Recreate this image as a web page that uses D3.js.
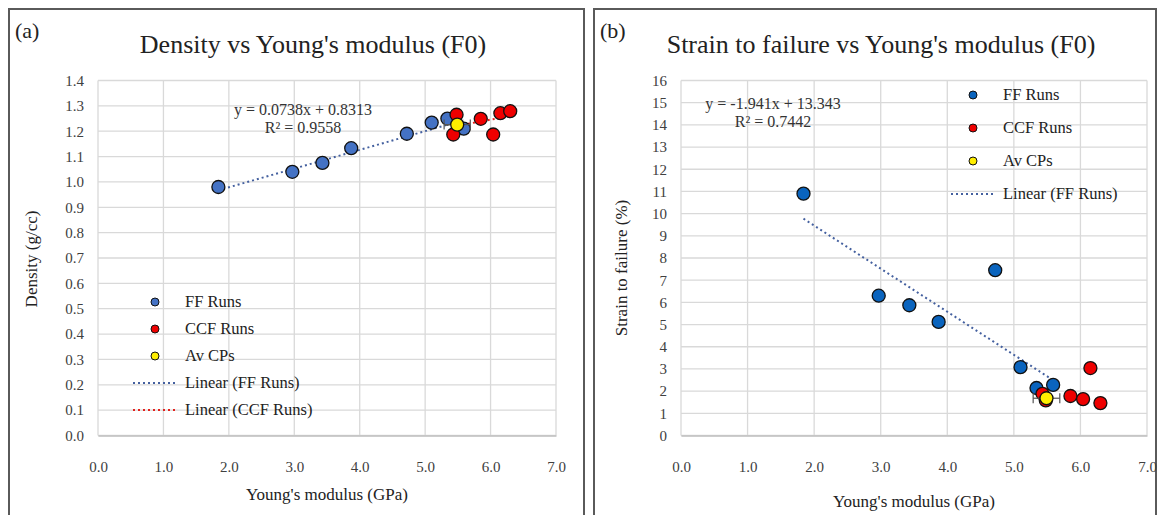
<!DOCTYPE html>
<html>
<head>
<meta charset="utf-8">
<script src="https://cdn.jsdelivr.net/npm/d3@7"></script>
<style>
    body { margin: 0; background: #fff; }
    svg text { font-family: "Liberation Serif", "DejaVu Serif", "Times New Roman", serif; }
</style>
</head>
<body>
<div id="chart"></div>
<script>
// values
const ffModulus = [1.84, 2.97, 3.43, 3.87, 4.72, 5.10, 5.34, 5.59];
const ffDensity = [0.98, 1.04, 1.075, 1.133, 1.19, 1.234, 1.25, 1.21];
const ffStrain = [10.9, 6.3, 5.87, 5.12, 7.45, 3.08, 2.14, 2.28];

const ccfModulus = [5.43, 5.48, 5.85, 6.04, 6.15, 6.30];
const ccfDensity = [1.187, 1.265, 1.249, 1.187, 1.271, 1.279];
const ccfStrain = [1.88, 1.58, 1.78, 1.64, 3.04, 1.46];

const avModulus = [5.49];
const avModulusErr = [0.2];
const avDensity = [1.226];
const avStrain = [1.68];

// trendline labels as printed on the chart: slope, intercept, R²
const densityFit = [0.0738, 0.8313, 0.9558];
const strainFit = [-1.941, 13.343, 0.7442];

const modulusTicks = [0, 1, 2, 3, 4, 5, 6, 7];
const densityTicks = [0, 0.1, 0.2, 0.3, 0.4, 0.5, 0.6, 0.7, 0.8, 0.9, 1.0, 1.1, 1.2, 1.3, 1.4];
const strainTicks = [0, 1, 2, 3, 4, 5, 6, 7, 8, 9, 10, 11, 12, 13, 14, 15, 16];

const serif = '"Liberation Serif", "DejaVu Serif", "Times New Roman", serif';

let width = 1159;
let height = 515;

let svg = d3.select('#chart')
    .append('svg')
    .attr('width', width)
    .attr('height', height)
    .attr('font-family', serif);

svg.append('rect')
    .attr('width', width)
    .attr('height', height)
    .attr('fill', '#fff');

// least squares fit, the way excel draws the trendline
function fitLine(xs, ys) {
    let mx = d3.mean(xs), my = d3.mean(ys);
    let sxy = d3.sum(xs, (x, i) => (x - mx) * (ys[i] - my));
    let sxx = d3.sum(xs, x => (x - mx) * (x - mx));
    let slope = sxy / sxx;
    return [slope, my - slope * mx];
}

function drawPanel(p) {
    let g = svg.append('g');

    // panel frame (bottom runs off the picture)
    g.append('rect')
        .attr('x', p.frame[0])
        .attr('y', 9)
        .attr('width', p.frame[1] - p.frame[0])
        .attr('height', 530)
        .attr('fill', 'none')
        .attr('stroke', '#5a5a5a')
        .attr('stroke-width', 2);

    let x = d3.scaleLinear()
        .domain([0, 7])
        .range([p.left, p.right]);

    let y = d3.scaleLinear()
        .domain(p.yDomain)
        .range([435.5, 80.5]);

    // grid
    g.append('g')
        .selectAll('line')
        .data(modulusTicks)
        .enter()
        .append('line')
        .attr('x1', d => x(d)).attr('x2', d => x(d))
        .attr('y1', y.range()[1]).attr('y2', y.range()[0])
        .attr('stroke', '#d9d9d9')
        .attr('stroke-width', 1.3);

    g.append('g')
        .selectAll('line')
        .data(p.yTicks)
        .enter()
        .append('line')
        .attr('x1', p.left).attr('x2', p.right)
        .attr('y1', d => y(d)).attr('y2', d => y(d))
        .attr('stroke', '#d9d9d9')
        .attr('stroke-width', 1.3);

    // axes, only the labels are shown
    let xAxis = g.append('g')
        .attr('transform', `translate(0,${y(p.yDomain[0])})`)
        .call(d3.axisBottom(x).tickValues(modulusTicks).tickFormat(d3.format('.1f')).tickSize(0).tickPadding(26));
    xAxis.select('.domain').attr('stroke', '#bfbfbf').attr('stroke-width', 1.3);

    let yAxis = g.append('g')
        .attr('transform', `translate(${p.left},0)`)
        .call(d3.axisLeft(y).tickValues(p.yTicks).tickFormat(p.yFormat).tickSize(0).tickPadding(14));
    yAxis.select('.domain').remove();

    g.selectAll('.tick text')
        .attr('fill', '#404040')
        .attr('font-family', serif)
        .attr('font-size', 15);
    xAxis.attr('font-family', serif);
    yAxis.attr('font-family', serif);

    // titles
    g.append('text')
        .attr('x', p.frame[0] + 6)
        .attr('y', 38)
        .attr('fill', '#222')
        .attr('font-size', 22)
        .text(p.tag);

    g.append('text')
        .attr('x', p.titleX)
        .attr('y', 53)
        .attr('text-anchor', 'middle')
        .attr('fill', '#222')
        .attr('font-size', 26)
        .text(p.title);

    g.append('text')
        .attr('x', (p.left + p.right) / 2)
        .attr('y', p.xTitleY)
        .attr('text-anchor', 'middle')
        .attr('fill', '#222')
        .attr('font-size', 17)
        .text("Young's modulus (GPa)");

    g.append('text')
        .attr('transform', `translate(${p.yTitleX},${p.yTitleY}) rotate(270)`)
        .attr('text-anchor', 'middle')
        .attr('fill', '#222')
        .attr('font-size', 17)
        .text(p.yTitle);

    // trend lines
    let trend = (coef, xs, color) => {
        let ends = d3.extent(xs);
        g.append('line')
            .attr('x1', x(ends[0])).attr('y1', y(coef[0] * ends[0] + coef[1]))
            .attr('x2', x(ends[1])).attr('y2', y(coef[0] * ends[1] + coef[1]))
            .attr('stroke', color)
            .attr('stroke-width', 2)
            .attr('stroke-dasharray', '2,3');
    };
    trend(p.fit, ffModulus, '#44609f');
    if (p.ccfTrend) {
        trend(fitLine(ccfModulus, p.ccf), ccfModulus, '#e3211c');
    }

    // equation
    g.append('text')
        .attr('x', p.eqX)
        .attr('y', p.eqY)
        .attr('text-anchor', 'middle')
        .attr('fill', '#333')
        .attr('font-size', 16)
        .text(`y = ${p.fit[0]}x + ${p.fit[1]}`);
    g.append('text')
        .attr('x', p.eqX)
        .attr('y', p.eqY + 18)
        .attr('text-anchor', 'middle')
        .attr('fill', '#333')
        .attr('font-size', 16)
        .text(`R² = ${p.fit[2]}`);

    // points
    let dots = (xs, ys, fill) => {
        g.append('g')
            .selectAll('circle')
            .data(xs.map((v, i) => [v, ys[i]]))
            .enter()
            .append('circle')
            .attr('cx', d => x(d[0]))
            .attr('cy', d => y(d[1]))
            .attr('r', 6.5)
            .attr('fill', fill)
            .attr('stroke', '#111')
            .attr('stroke-width', 1.3);
    };
    dots(ffModulus, p.ff, p.blue);
    dots(ccfModulus, p.ccf, '#ee0000');

    // error bar on the averaged point
    let eb = g.append('g').attr('stroke', '#555').attr('stroke-width', 1.2);
    avModulus.forEach((v, i) => {
        let cy = y(p.av[i]);
        eb.append('line')
            .attr('x1', x(v - avModulusErr[i])).attr('x2', x(v + avModulusErr[i]))
            .attr('y1', cy).attr('y2', cy);
        [v - avModulusErr[i], v + avModulusErr[i]].forEach(e => {
            eb.append('line')
                .attr('x1', x(e)).attr('x2', x(e))
                .attr('y1', cy - 5).attr('y2', cy + 5);
        });
    });
    dots(avModulus, p.av, '#ffee00');

    // legend
    let leg = g.append('g').attr('font-size', 16.5);
    p.legend.forEach((item, i) => {
        let ly = p.legY + i * p.legStep;
        if (item.line) {
            leg.append('line')
                .attr('x1', p.legX - 22).attr('x2', p.legX + 22)
                .attr('y1', ly).attr('y2', ly)
                .attr('stroke', item.color)
                .attr('stroke-width', 2)
                .attr('stroke-dasharray', '2,3');
        } else {
            leg.append('circle')
                .attr('cx', p.legX).attr('cy', ly)
                .attr('r', 4)
                .attr('fill', item.color)
                .attr('stroke', '#111')
                .attr('stroke-width', 1);
        }
        leg.append('text')
            .attr('x', p.legX + 30)
            .attr('y', ly + 5)
            .attr('fill', '#222')
            .text(item.name);
    });
}

drawPanel({
    frame: [9, 584],
    left: 98, right: 556,
    yDomain: [0, 1.4],
    yTicks: densityTicks,
    yFormat: d3.format('.1f'),
    ff: ffDensity, ccf: ccfDensity, av: avDensity,
    fit: densityFit,
    ccfTrend: true,
    blue: '#4472c4',
    tag: '(a)',
    title: 'Density vs Young\'s modulus (F0)',
    titleX: 313,
    yTitle: 'Density (g/cc)',
    yTitleX: 37, yTitleY: 259,
    xTitleY: 500,
    eqX: 303, eqY: 115,
    legX: 155, legY: 302, legStep: 27,
    legend: [
        { name: 'FF Runs', color: '#4472c4' },
        { name: 'CCF Runs', color: '#ee0000' },
        { name: 'Av CPs', color: '#ffee00' },
        { name: 'Linear (FF Runs)', color: '#44609f', line: true },
        { name: 'Linear (CCF Runs)', color: '#e3211c', line: true }
    ]
});

drawPanel({
    frame: [594, 1156],
    left: 681, right: 1147,
    yDomain: [0, 16],
    yTicks: strainTicks,
    yFormat: d3.format('d'),
    ff: ffStrain, ccf: ccfStrain, av: avStrain,
    fit: strainFit,
    ccfTrend: false,
    blue: '#0a64be',
    tag: '(b)',
    title: 'Strain to failure vs Young\'s modulus (F0)',
    titleX: 881,
    yTitle: 'Strain to failure (%)',
    yTitleX: 627, yTitleY: 268,
    xTitleY: 507,
    eqX: 773, eqY: 109,
    legX: 973, legY: 95, legStep: 33,
    legend: [
        { name: 'FF Runs', color: '#0a64be' },
        { name: 'CCF Runs', color: '#ee0000' },
        { name: 'Av CPs', color: '#ffee00' },
        { name: 'Linear (FF Runs)', color: '#44609f', line: true }
    ]
});
</script>
</body>
</html>
